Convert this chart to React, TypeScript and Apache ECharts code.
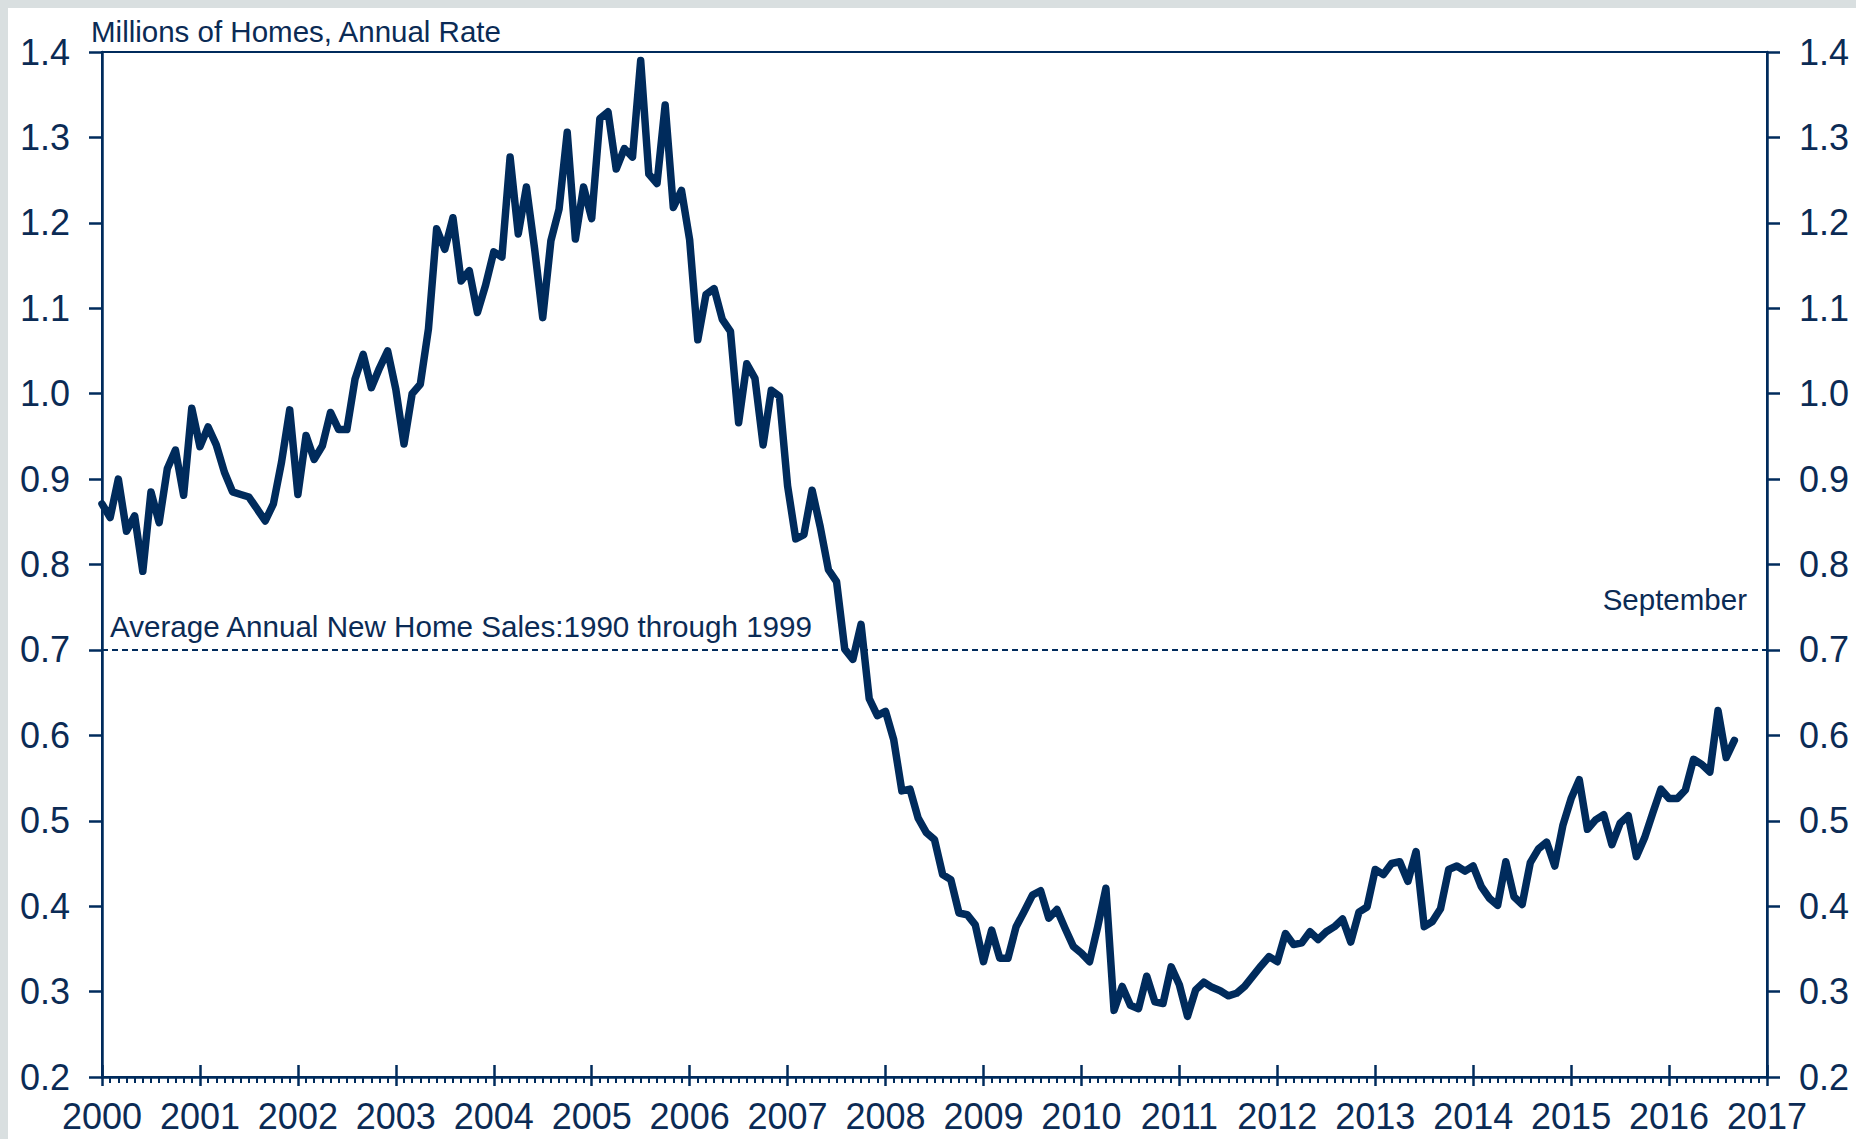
import React, { useEffect, useRef } from "react";
import * as echarts from "echarts";

// New home sales, millions of homes (annual rate), monthly Jan 2000 - Sep 2016
const sales2000 = [0.871, 0.855, 0.900, 0.839, 0.857, 0.792, 0.885, 0.849, 0.912, 0.934, 0.881, 0.983];
const sales2001 = [0.938, 0.961, 0.940, 0.908, 0.885, 0.882, 0.879, 0.865, 0.851, 0.871, 0.920, 0.981];
const sales2002 = [0.882, 0.951, 0.923, 0.939, 0.978, 0.958, 0.958, 1.017, 1.046, 1.007, 1.030, 1.050];
const sales2003 = [1.005, 0.941, 1.000, 1.011, 1.076, 1.193, 1.169, 1.206, 1.132, 1.144, 1.095, 1.127];
const sales2004 = [1.166, 1.160, 1.277, 1.187, 1.242, 1.170, 1.089, 1.179, 1.216, 1.306, 1.181, 1.242];
const sales2005 = [1.205, 1.322, 1.330, 1.263, 1.287, 1.277, 1.390, 1.257, 1.246, 1.338, 1.218, 1.238];
const sales2006 = [1.180, 1.063, 1.116, 1.123, 1.087, 1.073, 0.966, 1.035, 1.018, 0.940, 1.004, 0.997];
const sales2007 = [0.892, 0.830, 0.835, 0.887, 0.844, 0.794, 0.780, 0.701, 0.689, 0.730, 0.643, 0.623];
const sales2008 = [0.628, 0.595, 0.535, 0.537, 0.503, 0.486, 0.478, 0.437, 0.431, 0.392, 0.390, 0.378];
const sales2009 = [0.335, 0.372, 0.339, 0.339, 0.376, 0.394, 0.413, 0.418, 0.386, 0.396, 0.374, 0.353];
const sales2010 = [0.345, 0.335, 0.376, 0.421, 0.278, 0.306, 0.284, 0.280, 0.318, 0.288, 0.286, 0.329];
const sales2011 = [0.308, 0.271, 0.302, 0.311, 0.305, 0.301, 0.295, 0.298, 0.306, 0.318, 0.330, 0.341];
const sales2012 = [0.335, 0.368, 0.355, 0.357, 0.370, 0.361, 0.370, 0.376, 0.385, 0.358, 0.393, 0.399];
const sales2013 = [0.443, 0.437, 0.450, 0.452, 0.429, 0.464, 0.376, 0.382, 0.397, 0.443, 0.447, 0.441];
const sales2014 = [0.447, 0.423, 0.409, 0.401, 0.452, 0.411, 0.402, 0.451, 0.467, 0.475, 0.447, 0.495];
const sales2015 = [0.526, 0.548, 0.490, 0.501, 0.507, 0.472, 0.497, 0.506, 0.458, 0.480, 0.509, 0.537];
const sales2016 = [0.526, 0.526, 0.536, 0.572, 0.566, 0.557, 0.629, 0.574, 0.594];

const years = [2000, 2001, 2002, 2003, 2004, 2005, 2006, 2007, 2008, 2009, 2010, 2011, 2012, 2013, 2014, 2015, 2016];
const salesByYear = [
  sales2000, sales2001, sales2002, sales2003, sales2004, sales2005, sales2006, sales2007, sales2008,
  sales2009, sales2010, sales2011, sales2012, sales2013, sales2014, sales2015, sales2016,
];

const X_MIN = 2000;
const X_MAX = 2017;
const Y_MIN = 0.2;
const Y_MAX = 1.4;
const Y_STEP = 0.1;
const AVERAGE_1990S = 0.7;

const TITLE = "Millions of Homes, Annual Rate";
const AVG_LABEL = "Average Annual New Home Sales:1990 through 1999";
const LAST_LABEL = "September";

const NAVY = "#002b5c";
const TEXT = "#0b2b55";
const FONT = "'Liberation Sans', Arial, sans-serif";

export default function App() {
  const ref = useRef<HTMLDivElement>(null);

  useEffect(() => {
    if (!ref.current) return;
    const chart = echarts.init(ref.current, null, { renderer: "svg", width: 1856, height: 1139 });

    const data: [number, number][] = [];
    years.forEach((yr, yi) => {
      salesByYear[yi].forEach((v, m) => data.push([yr + m / 12, v]));
    });

    const yAxisCommon = {
      type: "value",
      min: Y_MIN,
      max: Y_MAX,
      interval: Y_STEP,
      axisLine: { show: true, lineStyle: { color: NAVY, width: 2.5 } },
      axisTick: { show: true, inside: false, length: 13, lineStyle: { color: NAVY, width: 2.5 } },
      splitLine: { show: false },
      axisLabel: {
        color: TEXT,
        fontSize: 36,
        fontFamily: FONT,
        margin: 32,
        formatter: (v: number) => v.toFixed(1),
      },
    };

    chart.setOption({
      animation: false,
      backgroundColor: "#ffffff",
      grid: {
        left: 102,
        right: 89,
        top: 52,
        bottom: 62,
        show: true,
        borderColor: NAVY,
        borderWidth: 2,
        containLabel: false,
      },
      xAxis: [
        {
          type: "value",
          min: X_MIN,
          max: X_MAX,
          interval: 1,
          position: "bottom",
          axisLine: { show: true, lineStyle: { color: NAVY, width: 2.5 } },
          axisTick: { show: true, inside: false, length: 9, lineStyle: { color: NAVY, width: 2.5 } },
          minorTick: { show: true, splitNumber: 12, length: 6, lineStyle: { color: NAVY, width: 2 } },
          splitLine: { show: false },
          minorSplitLine: { show: false },
          axisLabel: {
            color: TEXT,
            fontSize: 36,
            fontFamily: FONT,
            margin: 21,
            formatter: (v: number) => String(Math.round(v)),
          },
        },
        {
          type: "value",
          min: X_MIN,
          max: X_MAX,
          interval: 1,
          position: "bottom",
          axisLine: { show: false },
          axisTick: { show: true, inside: true, length: 12, lineStyle: { color: NAVY, width: 2.5 } },
          splitLine: { show: false },
          axisLabel: { show: false },
        },
      ],
      yAxis: [
        { ...yAxisCommon, position: "left" },
        { ...yAxisCommon, position: "right" },
      ],
      series: [
        {
          type: "line",
          data,
          xAxisIndex: 0,
          yAxisIndex: 0,
          symbol: "none",
          lineStyle: { color: NAVY, width: 7.5, join: "round", cap: "round" },
          z: 5,
          markLine: {
            silent: true,
            symbol: "none",
            label: { show: false },
            lineStyle: { color: NAVY, width: 2.2, type: [6, 4] },
            data: [{ yAxis: AVERAGE_1990S }],
            z: 3,
          },
        },
      ],
      graphic: [
        { type: "rect", shape: { x: 0, y: 0, width: 1856, height: 8 }, style: { fill: "#d9dfe0" }, z: 100 },
        { type: "rect", shape: { x: 0, y: 0, width: 8, height: 1139 }, style: { fill: "#d9dfe0" }, z: 100 },
        {
          type: "text",
          x: 91,
          y: 31,
          style: { text: TITLE, fill: TEXT, fontSize: 29.5, fontFamily: FONT, align: "left", verticalAlign: "middle" },
          z: 100,
        },
        {
          type: "text",
          x: 110,
          y: 626,
          style: { text: AVG_LABEL, fill: TEXT, fontSize: 29.6, fontFamily: FONT, align: "left", verticalAlign: "middle" },
          z: 100,
        },
        {
          type: "text",
          x: 1747,
          y: 599,
          style: { text: LAST_LABEL, fill: TEXT, fontSize: 29.5, fontFamily: FONT, align: "right", verticalAlign: "middle" },
          z: 100,
        },
      ],
    });

    return () => chart.dispose();
  }, []);

  return (
    <div
      ref={ref}
      style={{ position: "absolute", left: 0, top: 0, width: 1856, height: 1139, background: "#ffffff" }}
    />
  );
}
